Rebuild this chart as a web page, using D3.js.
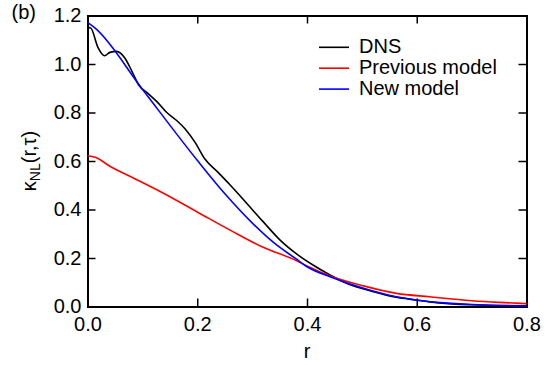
<!DOCTYPE html>
<html>
<head>
<meta charset="utf-8">
<script src="https://cdn.jsdelivr.net/npm/d3@7"></script>
<style>
  body { margin: 0; background: #fff; }
  text { font-family: "Liberation Sans", Arial, Helvetica, sans-serif; }
</style>
</head>
<body>
<div id="chart"></div>
<script>
// values
var dnsR = [0, 0.006, 0.019, 0.031, 0.041, 0.053, 0.068, 0.081, 0.094, 0.108, 0.126, 0.144, 0.163, 0.178, 0.196, 0.214, 0.238, 0.26, 0.29, 0.32, 0.351, 0.384, 0.411, 0.442, 0.472, 0.521, 0.563, 0.598, 0.624, 0.7, 0.8];
var dnsV = [1.151, 1.148, 1.069, 1.034, 1.048, 1.052, 1.025, 0.970, 0.911, 0.883, 0.846, 0.801, 0.766, 0.732, 0.677, 0.608, 0.553, 0.501, 0.426, 0.350, 0.274, 0.212, 0.171, 0.130, 0.096, 0.061, 0.038, 0.027, 0.019, 0.007, 0.003];

var prevR = [0, 0.014, 0.044, 0.087, 0.135, 0.2, 0.26, 0.32, 0.381, 0.4, 0.442, 0.503, 0.563, 0.624, 0.7, 0.75, 0.8];
var prevV = [0.622, 0.615, 0.574, 0.526, 0.471, 0.39, 0.315, 0.244, 0.189, 0.167, 0.126, 0.085, 0.054, 0.040, 0.024, 0.017, 0.012];

var newR = [0, 0.014, 0.1, 0.2, 0.25, 0.3, 0.34, 0.381, 0.4, 0.442, 0.503, 0.563, 0.598, 0.65, 0.7, 0.8];
var newV = [1.172, 1.148, 0.896, 0.603, 0.466, 0.345, 0.262, 0.195, 0.164, 0.123, 0.075, 0.040, 0.027, 0.015, 0.008, 0.002];

var xTicks = [0, 0.2, 0.4, 0.6, 0.8];
var yTicks = [0, 0.2, 0.4, 0.6, 0.8, 1.0, 1.2];

var series = [
  { name: "DNS", color: "#000000", r: dnsR, v: dnsV },
  { name: "Previous model", color: "#ff0000", r: prevR, v: prevV },
  { name: "New model", color: "#0000ff", r: newR, v: newV }
];

var svgWidth = 551;
var svgHeight = 365;
var margin = { top: 15.5, right: 24.5, bottom: 58.5, left: 87.5 };
var width = svgWidth - margin.left - margin.right;
var height = svgHeight - margin.top - margin.bottom;
var fontSize = 20;

var svg = d3.select("#chart")
  .append("svg")
  .attr("width", svgWidth)
  .attr("height", svgHeight);

var chartGroup = svg.append("g")
  .attr("transform", `translate(${margin.left}, ${margin.top})`);

var x = d3.scaleLinear().domain([0, 0.8]).range([0, width]);
var y = d3.scaleLinear().domain([0, 1.2]).range([height, 0]);

var fmt = d3.format(".1f");

// axes: ticks pointing inward on all four sides
var bottomAxis = d3.axisBottom(x).tickValues(xTicks).tickSize(-8).tickPadding(10).tickFormat(fmt);
var leftAxis = d3.axisLeft(y).tickValues(yTicks).tickSize(-8).tickPadding(6).tickFormat(fmt);
var topAxis = d3.axisTop(x).tickValues(xTicks).tickSize(-8).tickFormat("");
var rightAxis = d3.axisRight(y).tickValues(yTicks).tickSize(-8).tickFormat("");

function styleAxis(g) {
  g.selectAll("path").attr("stroke", "#000").attr("stroke-width", 2);
  g.selectAll("line").attr("stroke", "#000").attr("stroke-width", 1.5);
  g.selectAll("text").attr("font-size", fontSize).attr("fill", "#000")
    .attr("font-family", "'Liberation Sans', Arial, sans-serif");
}

chartGroup.append("g").attr("transform", `translate(0, ${height})`).call(bottomAxis).call(styleAxis);
chartGroup.append("g").call(leftAxis).call(styleAxis);
chartGroup.append("g").call(topAxis).call(styleAxis);
chartGroup.append("g").attr("transform", `translate(${width}, 0)`).call(rightAxis).call(styleAxis);

var line = d3.line()
  .x(d => x(d[0]))
  .y(d => y(d[1]))
  .curve(d3.curveMonotoneX);

series.forEach(function(s) {
  chartGroup.append("path")
    .datum(s.r.map((r, i) => [r, s.v[i]]))
    .attr("fill", "none")
    .attr("stroke", s.color)
    .attr("stroke-width", 1.6)
    .attr("d", line);
});

// legend
var legend = svg.append("g").attr("transform", "translate(319, 47.3)");
series.forEach(function(s, i) {
  var row = legend.append("g").attr("transform", `translate(0, ${i * 20.9})`);
  row.append("line")
    .attr("x1", 0).attr("x2", 30)
    .attr("stroke", s.color).attr("stroke-width", 1.6);
  row.append("text")
    .attr("x", 40).attr("dy", "0.28em")
    .attr("font-size", fontSize)
    .text(s.name);
});

// panel label
svg.append("text")
  .attr("x", 11.5).attr("y", 18.5)
  .attr("font-size", fontSize)
  .text("(b)");

// x axis title
svg.append("text")
  .attr("x", margin.left + width / 2)
  .attr("y", 358)
  .attr("text-anchor", "middle")
  .attr("font-size", fontSize)
  .text("r");

// y axis title
var yTitle = svg.append("text")
  .attr("transform", `translate(36, ${margin.top + height / 2}) rotate(-90)`)
  .attr("text-anchor", "middle")
  .attr("font-size", fontSize);
yTitle.append("tspan").text("\u03BA");
yTitle.append("tspan").attr("font-size", 14).attr("dy", 4).text("NL");
yTitle.append("tspan").attr("dy", -4).text("(r,\u03C4)");
</script>
</body>
</html>
